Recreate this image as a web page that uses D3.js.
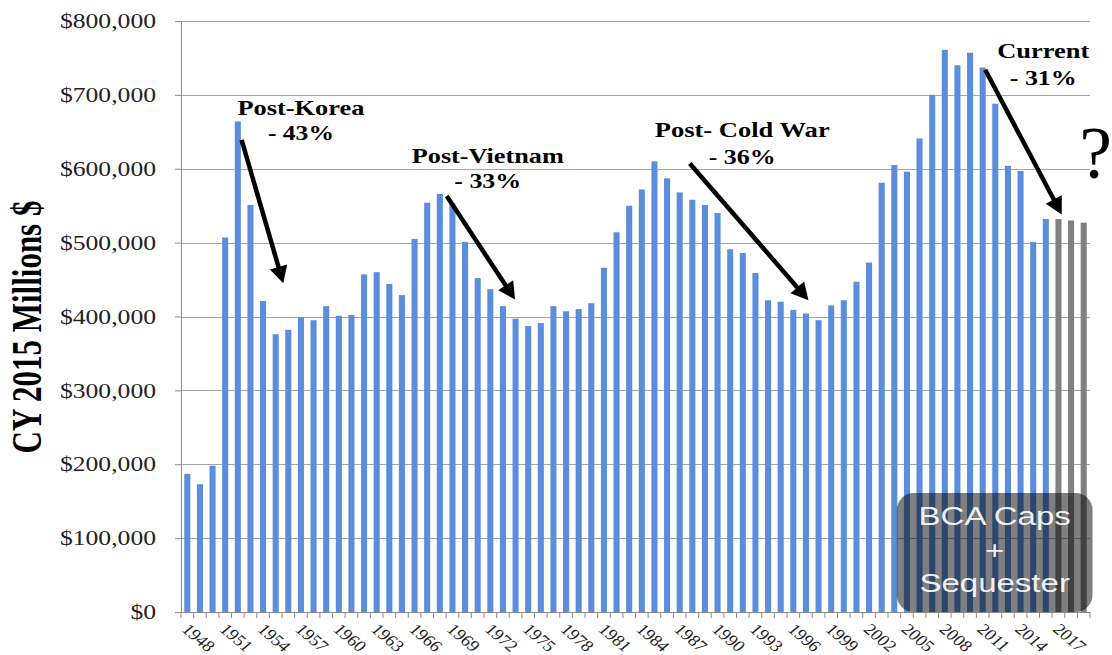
<!DOCTYPE html>
<html>
<head>
<meta charset="utf-8">
<script src="https://cdn.jsdelivr.net/npm/d3@7"></script>
<style>
  html, body { margin: 0; padding: 0; background: #fff; }
  svg { display: block; }
</style>
</head>
<body>
<svg id="chart" width="1112" height="655"></svg>
<script>
// ---------------- DATA ----------------
const years = d3.range(1948, 2020); // 1948 .. 2019
const values = [
  187000, 173000, 198000, 507000, 664000, 551000, 421000, 376000, 382000, 399000,
  395000, 414000, 401000, 402000, 457000, 460000, 444000, 429000, 505000, 554000,
  566000, 553000, 501000, 452000, 437000, 414000, 397000, 387000, 391000, 414000,
  407000, 410000, 418000, 466000, 514000, 550000, 572000, 610000, 587000, 568000,
  558000, 551000, 540000, 491000, 486000, 459000, 422000, 420000, 409000, 404000,
  395000, 415000, 422000, 447000, 473000, 581000, 605000, 596000, 641000, 700000,
  761000, 740000, 757000, 737000, 688000, 604000, 597000, 501000, 532000, 532000,
  530000, 527000
];
const projectedYears = [2017, 2018, 2019];
const tickYears = [1948, 1951, 1954, 1957, 1960, 1963, 1966, 1969, 1972, 1975, 1978,
  1981, 1984, 1987, 1990, 1993, 1996, 1999, 2002, 2005, 2008, 2011, 2014, 2017];
const yTicks = [0, 100000, 200000, 300000, 400000, 500000, 600000, 700000, 800000];
const yTitle = "CY 2015 Millions $";

const periodTitles = ["Post-Korea", "Post-Vietnam", "Post- Cold War", "Current"];
const periodDrops = ["- 43%", "- 33%", "- 36%", "- 31%"];
const boxLines = ["BCA Caps", "+", "Sequester"];

// ---------------- LAYOUT ----------------
const svg = d3.select("#chart");
const plotL = 181, plotR = 1090, plotT = 21, plotB = 612;
const blue = "#5b8ddd", grey = "#808080", gridCol = "#a6a6a6", axisCol = "#8c8c8c";

const x = d3.scaleBand().domain(years).range([plotL, plotR]).paddingInner(0.52).paddingOuter(0.26);
const y = d3.scaleLinear().domain([0, 800000]).range([plotB, plotT]);
const step = x.step(), bw = x.bandwidth();
// continuous position (year -> bar centre) used for annotations
const xc = yr => x(years[0]) + bw / 2 + (yr - years[0]) * step;

function stretch(sel, f) {
  sel.each(function () {
    const l = this.getComputedTextLength();
    d3.select(this).attr("textLength", l * f).attr("lengthAdjust", "spacingAndGlyphs");
  });
}

// gridlines
svg.append("g").selectAll("line").data(yTicks.filter(d => d > 0)).join("line")
  .attr("x1", plotL).attr("x2", plotR)
  .attr("y1", d => Math.round(y(d)) + 0.5).attr("y2", d => Math.round(y(d)) + 0.5)
  .attr("stroke", gridCol).attr("stroke-width", 1.2);

// bars
svg.append("g").selectAll("rect").data(years).join("rect")
  .attr("x", d => x(d)).attr("width", bw)
  .attr("y", (d, i) => y(values[i]))
  .attr("height", (d, i) => y(0) - y(values[i]))
  .attr("fill", d => projectedYears.includes(d) ? grey : blue);

// y axis
const yAxis = svg.append("g").attr("transform", `translate(${plotL},0)`)
  .call(d3.axisLeft(y).tickValues(yTicks).tickSize(6).tickSizeOuter(0).tickPadding(19)
    .tickFormat(d => "$" + d3.format(",")(d)));
yAxis.select(".domain").attr("stroke", axisCol);
yAxis.selectAll(".tick line").attr("stroke", axisCol);
yAxis.selectAll(".tick text")
  .attr("font-family", "'Liberation Serif', 'Times New Roman', serif")
  .attr("font-size", 21).attr("fill", "#222");
stretch(yAxis.selectAll(".tick text"), 1.22);

// x axis line + boundary ticks
const xAxis = svg.append("g").attr("transform", `translate(0,${plotB})`)
  .call(d3.axisBottom(x).tickValues(tickYears).tickSize(0).tickFormat(""));
xAxis.select(".domain").attr("stroke", axisCol).attr("stroke-width", 1.2);
const bounds = years.map(d => x(d) - step * x.paddingInner() / 2).concat([plotR]);
svg.append("g").selectAll("line").data(bounds).join("line")
  .attr("x1", d => d).attr("x2", d => d).attr("y1", plotB).attr("y2", plotB + 6)
  .attr("stroke", axisCol).attr("stroke-width", 1);

// year labels (rotated)
svg.append("g").selectAll("text").data(tickYears).join("text")
  .attr("transform", d => `translate(${x(d) + bw / 2 + 3},${plotB + 10}) scale(1.18,1) rotate(45)`)
  .attr("dy", "0.72em")
  .attr("font-family", "'Liberation Serif', 'Times New Roman', serif")
  .attr("font-size", 16).attr("fill", "#222")
  .text(d => d);

// y title
svg.append("text")
  .attr("transform", `translate(41,327) scale(1.36,1) rotate(-90)`)
  .attr("text-anchor", "middle")
  .attr("font-family", "'Liberation Serif', 'Times New Roman', serif")
  .attr("font-weight", "bold").attr("font-size", 31).attr("fill", "#000")
  .text(yTitle);

// ---------------- ANNOTATIONS ----------------
// label centre (year, value of baseline) and arrows, in data units
const labelPos = [
  { yr: 1957.0, v1: 672700, v2: 638900, w1: 127, w2: 66 },
  { yr: 1971.8, v1: 607400, v2: 573500, w1: 152, w2: 67 },
  { yr: 1991.95, v1: 642600, v2: 606000, w1: 175, w2: 67 },
  { yr: 2015.8, v1: 749500, v2: 713300, w1: 92, w2: 67 }
];
const arrows = [
  { y0: 1952.3, v0: 639000, y1: 1955.6, v1: 445000 },
  { y0: 1968.55, v0: 563000, y1: 1973.96, v1: 423000 },
  { y0: 1987.8, v0: 607000, y1: 1997.2, v1: 422000 },
  { y0: 2011.2, v0: 734000, y1: 2017.26, v1: 538000 }
];

const ann = svg.append("g");
labelPos.forEach((p, i) => {
  const cx = xc(p.yr);
  ann.append("text").attr("x", cx).attr("y", y(p.v1)).attr("text-anchor", "middle")
    .attr("font-family", "'Liberation Serif', 'Times New Roman', serif")
    .attr("font-weight", "bold").attr("font-size", 22).attr("fill", "#000")
    .attr("textLength", p.w1).attr("lengthAdjust", "spacingAndGlyphs")
    .text(periodTitles[i]);
  ann.append("text").attr("x", cx).attr("y", y(p.v2)).attr("text-anchor", "middle")
    .attr("font-family", "'Liberation Serif', 'Times New Roman', serif")
    .attr("font-weight", "bold").attr("font-size", 22).attr("fill", "#000")
    .attr("textLength", p.w2).attr("lengthAdjust", "spacingAndGlyphs")
    .text(periodDrops[i]);
});

arrows.forEach(a => {
  const x0 = xc(a.y0), Y0 = y(a.v0), x1 = xc(a.y1), Y1 = y(a.v1);
  const dx = x1 - x0, dy = Y1 - Y0, L = Math.hypot(dx, dy);
  const ux = dx / L, uy = dy / L, nx = -uy, ny = ux;
  const head = 17, half = 9;
  const hx = x1 - ux * head, hy = Y1 - uy * head;
  ann.append("line").attr("x1", x0).attr("y1", Y0).attr("x2", hx + ux * 2).attr("y2", hy + uy * 2)
    .attr("stroke", "#000").attr("stroke-width", 4.5);
  ann.append("path")
    .attr("d", `M${x1},${Y1} L${hx + nx * half},${hy + ny * half} L${hx - nx * half},${hy - ny * half} Z`)
    .attr("fill", "#000");
});

// question mark
ann.append("text").attr("x", xc(2019.95)).attr("y", y(587500)).attr("text-anchor", "middle")
  .attr("font-family", "'Liberation Serif', 'Times New Roman', serif")
  .attr("font-size", 73).attr("fill", "#000").text("?");

// BCA box
const bx0 = xc(2004.2), bx1 = xc(2019.7), by0 = y(161000), by1 = y(0);
const box = svg.append("g");
box.append("rect").attr("x", bx0).attr("y", by0).attr("width", bx1 - bx0).attr("height", by1 - by0)
  .attr("rx", 17).attr("ry", 17).attr("fill", "#000").attr("fill-opacity", 0.5);
const bcx = (bx0 + bx1) / 2;
const lineOff = [32, 65.5, 99];
boxLines.forEach((t, i) => {
  box.append("text").attr("x", bcx).attr("y", by0 + lineOff[i]).attr("text-anchor", "middle")
    .attr("font-family", "'Liberation Sans', Arial, sans-serif")
    .attr("font-size", 25).attr("fill", "#fff").attr("fill-opacity", 0.93)
    .text(t);
});
stretch(box.selectAll("text"), 1.32);
</script>
</body>
</html>
